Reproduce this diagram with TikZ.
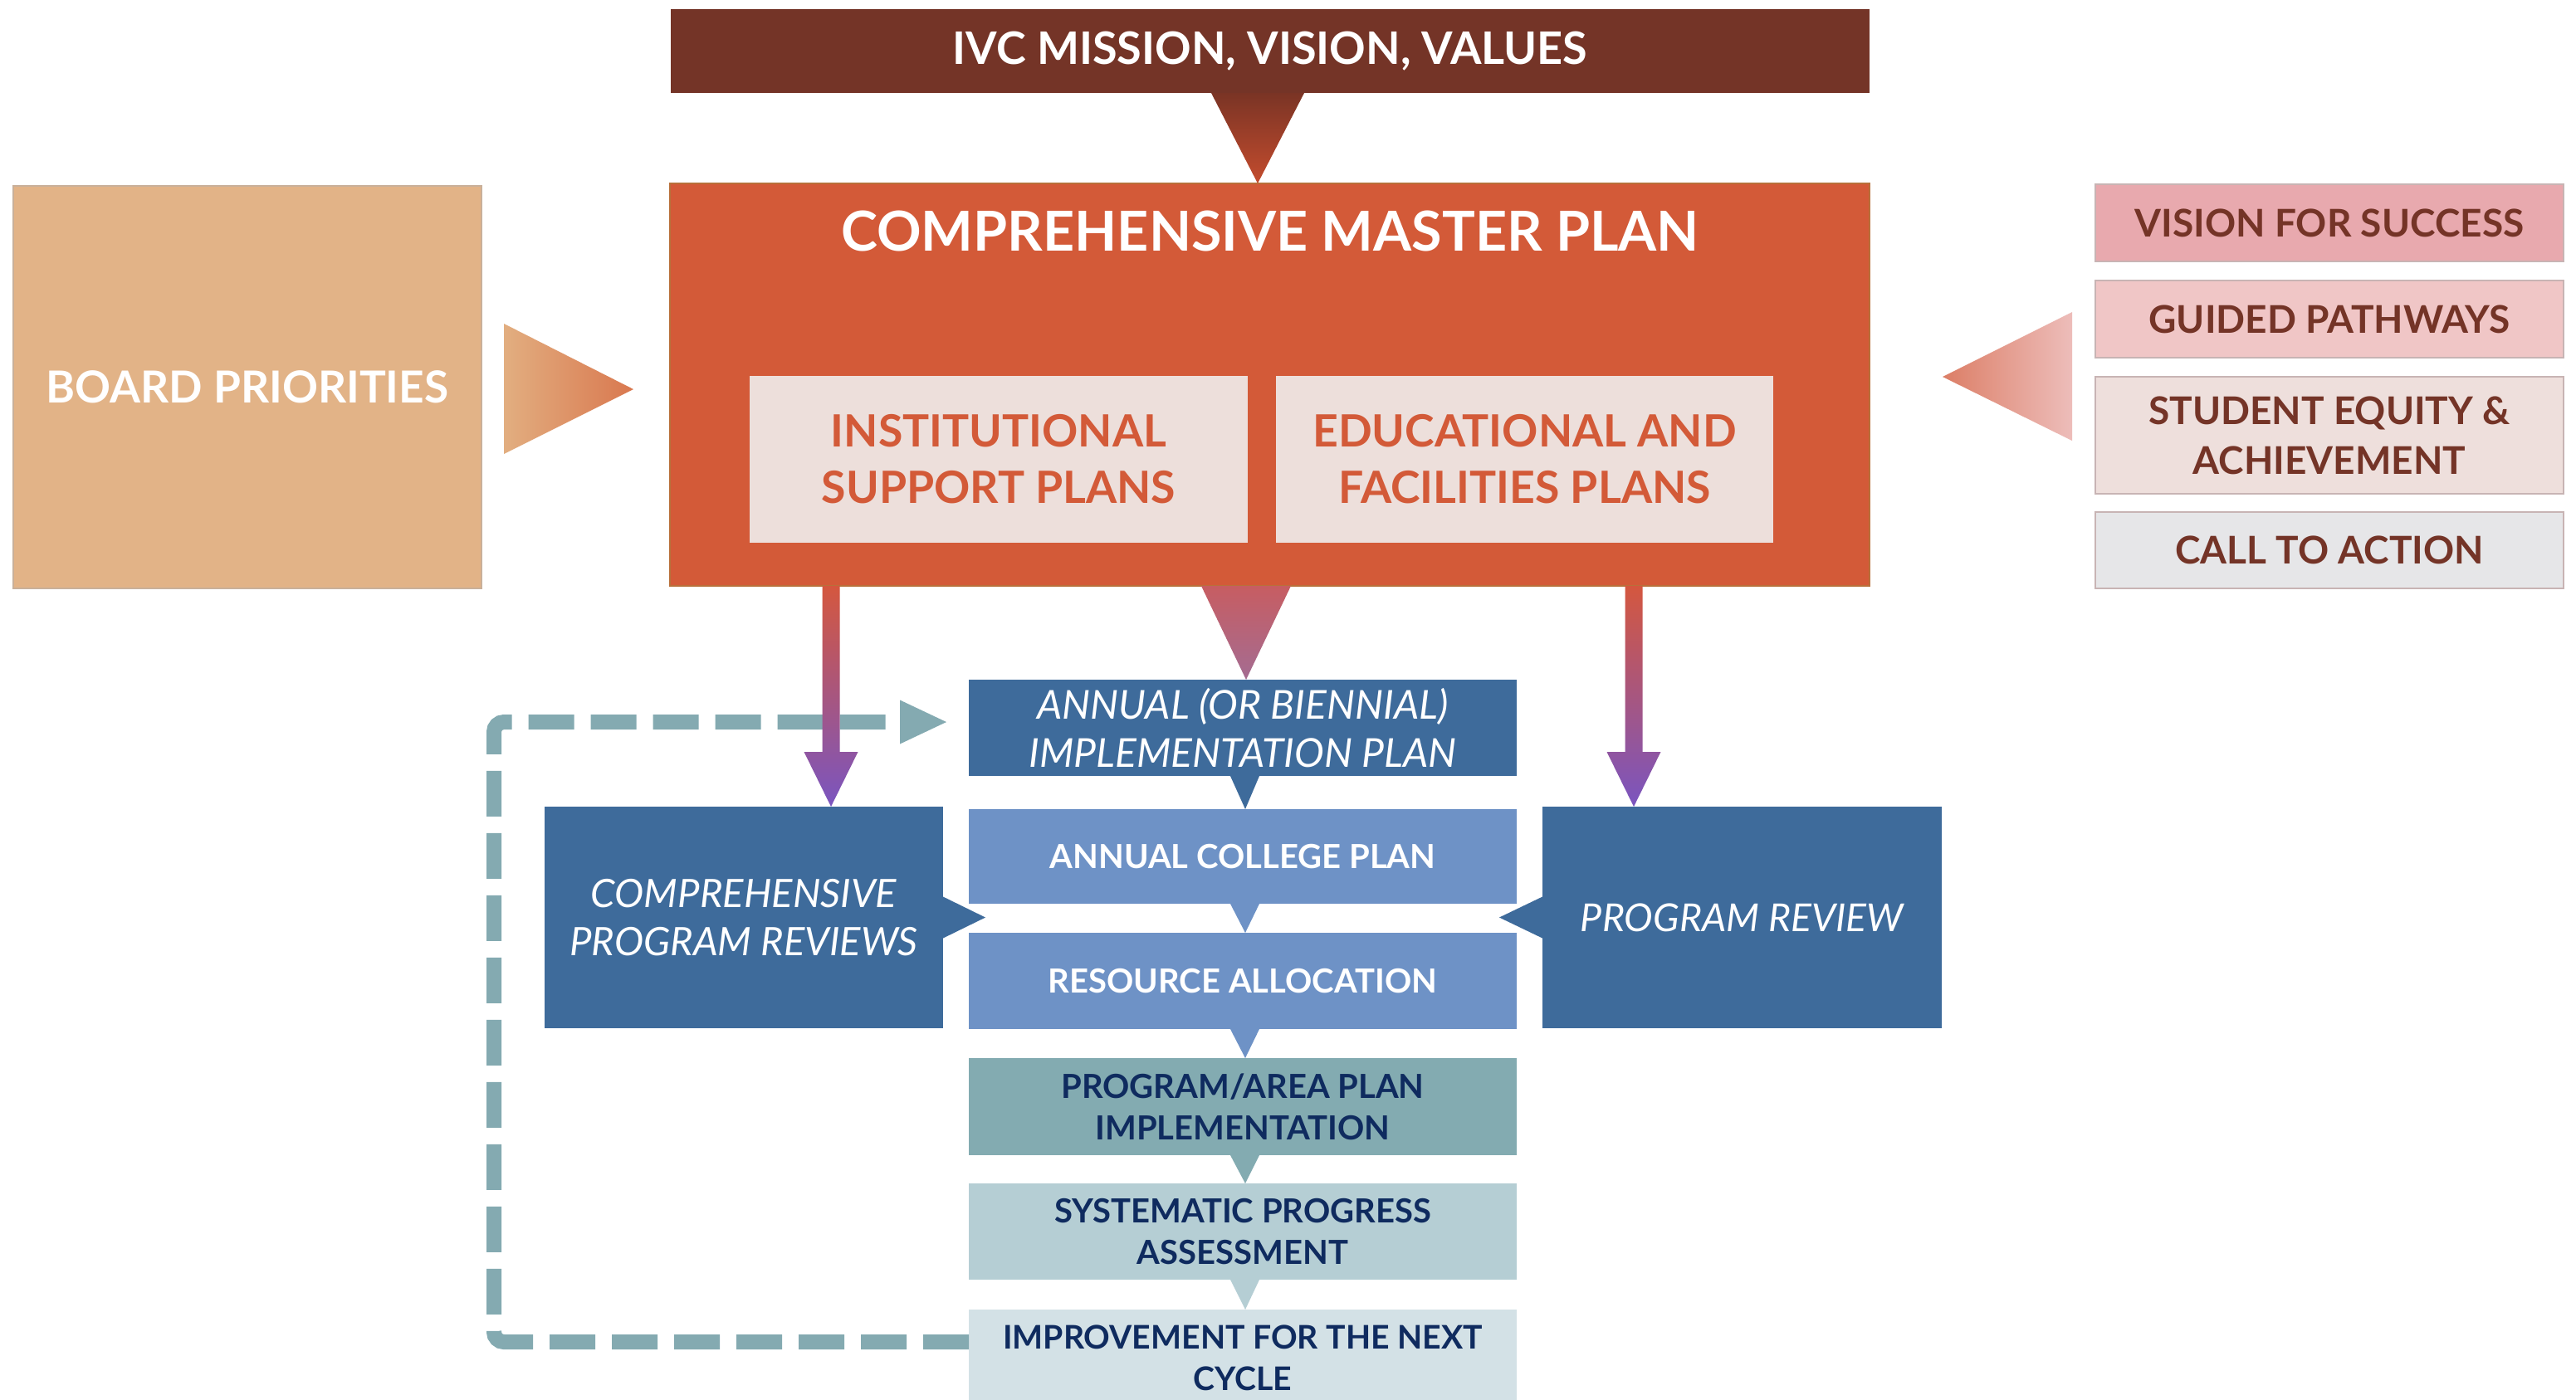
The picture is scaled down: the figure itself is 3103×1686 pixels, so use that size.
\documentclass[tikz,border=0pt]{standalone}
\usepackage{fontspec}
\setmainfont{Lato}
\usetikzlibrary{calc}
\definecolor{bannerc}{HTML}{743427}
\definecolor{masterc}{HTML}{D35A38}
\definecolor{masterb}{HTML}{B8703A}
\definecolor{innerc}{HTML}{EDDFDB}
\definecolor{boardc}{HTML}{E2B387}
\definecolor{boardb}{HTML}{C9B09A}
\definecolor{visc}{HTML}{E8A9AE}
\definecolor{guidc}{HTML}{F0C6C6}
\definecolor{equic}{HTML}{EEDFDC}
\definecolor{callc}{HTML}{E6E6E8}
\definecolor{rightb}{HTML}{C8B4B4}
\definecolor{browntext}{HTML}{743427}
\definecolor{dblue}{HTML}{3E6B9B}
\definecolor{lblue}{HTML}{6E92C6}
\definecolor{tealc}{HTML}{83ABB1}
\definecolor{lteal}{HTML}{B5CED4}
\definecolor{xteal}{HTML}{D3E1E6}
\definecolor{navy}{HTML}{0F2B5F}
\definecolor{dashc}{HTML}{84AAB1}
\definecolor{arrtop}{HTML}{D4573F}
\definecolor{arrbot}{HTML}{7A55C0}
\definecolor{btritop}{HTML}{7A3425}
\definecolor{btribot}{HTML}{C44C2E}
\definecolor{mtritop}{HTML}{C75D62}
\definecolor{mtribot}{HTML}{A46C92}
\definecolor{ltrileft}{HTML}{E2AE80}
\definecolor{ltriright}{HTML}{D9784F}
\definecolor{rtrileft}{HTML}{DC7E66}
\definecolor{rtriright}{HTML}{EDBDBA}
\tikzset{
  box/.style={rectangle, inner sep=0pt, outer sep=0pt, align=center},
  sz/.style 2 args={minimum width={#1*0.25pt}, minimum height={#2*0.25pt}},
  fbanner/.style={font=\bfseries\fontsize{13.5}{17}\selectfont},
  fbig/.style={font=\bfseries\fontsize{13.4}{17}\selectfont},
  fboard/.style={font=\bfseries\fontsize{13.3}{17}\selectfont},
  ftitle/.style={font=\bfseries\fontsize{16.6}{19}\selectfont},
  fright/.style={font=\bfseries\fontsize{11.5}{15}\selectfont},
  fital/.style={font=\itshape\fontsize{12}{14.5}\selectfont},
  fcpr/.style={font=\itshape\fontsize{11.8}{14.5}\selectfont},
  fpr/.style={font=\itshape\fontsize{11.6}{14.5}\selectfont},
  fsmall/.style={font=\bfseries\fontsize{10}{12.5}\selectfont},
  fimp/.style={font=\bfseries\fontsize{9.8}{12.5}\selectfont},
  feedback/.style={draw=dashc, line width=4.5pt, dash pattern=on 13.75pt off 5pt, rounded corners=3pt},
}
\begin{document}
\begin{tikzpicture}[x=0.25pt,y=-0.25pt]
\useasboundingbox (0,0) rectangle (3103,1686);
\fill[white] (0,0) rectangle (3103,1686);

% top banner and master plan
\node[box, sz={1444}{101}, fill=bannerc, text=white, fbanner] (banner) at (1530,61.5) {IVC MISSION, VISION, VALUES};
\node[box, sz={1445}{485}, fill=masterc, draw=masterb, line width=0.5pt] (master) at (1529.5,463.5) {};
\node[box, text=white, ftitle] (mtitle) at (1530,278) {COMPREHENSIVE MASTER PLAN};
\node[box, sz={600}{201}, fill=innerc, text=masterc, fbig] (inst) at (1203,553.5) {INSTITUTIONAL\\SUPPORT PLANS};
\node[box, sz={599}{201}, fill=innerc, text=masterc, fbig] (edu) at (1836.5,553.5) {EDUCATIONAL AND\\FACILITIES PLANS};

% board priorities
\node[box, sz={564}{485}, fill=boardc, draw=boardb, line width=0.4pt, text=white, fboard] (board) at (298,466.5) {BOARD PRIORITIES};

% right column
\node[box, sz={564}{93}, fill=visc, draw=rightb, line width=0.4pt, text=browntext, fright] (vis) at (2806,268.5) {VISION FOR SUCCESS};
\node[box, sz={564}{93}, fill=guidc, draw=rightb, line width=0.4pt, text=browntext, fright] (guid) at (2806,384.5) {GUIDED PATHWAYS};
\node[box, sz={564}{141}, fill=equic, draw=rightb, line width=0.4pt, text=browntext, fright] (equi) at (2806,524.5) {STUDENT EQUITY \&\\ACHIEVEMENT};
\node[box, sz={564}{92}, fill=callc, draw=rightb, line width=0.4pt, text=browntext, fright] (call) at (2806,663) {CALL TO ACTION};

% lower flow
\node[box, sz={660}{116}, fill=dblue, text=white, fital] (aip) at (1497,877) {ANNUAL (OR BIENNIAL)\\IMPLEMENTATION PLAN};
\node[box, sz={660}{114}, fill=lblue, text=white, fsmall] (acp) at (1497,1032) {ANNUAL COLLEGE PLAN};
\node[box, sz={660}{116}, fill=lblue, text=white, fsmall] (ra) at (1497,1182) {RESOURCE ALLOCATION};
\node[box, sz={660}{117}, fill=tealc, text=navy, fsmall] (pa) at (1497,1333.5) {PROGRAM/AREA PLAN\\IMPLEMENTATION};
\node[box, sz={660}{116}, fill=lteal, text=navy, fsmall] (spa) at (1497,1484) {SYSTEMATIC PROGRESS\\ASSESSMENT};
\node[box, sz={660}{116}, fill=xteal, text=navy, fimp] (imp) at (1497,1636) {IMPROVEMENT FOR THE NEXT\\CYCLE};

\node[box, sz={480}{267}, fill=dblue, text=white, fcpr] (cpr) at (896,1105.5) {COMPREHENSIVE\\PROGRAM REVIEWS};
\node[box, sz={481}{267}, fill=dblue, text=white, fpr] (pr) at (2098.5,1105.5) {PROGRAM REVIEW};

% feedback dashed loop
\coordinate (fbstart) at ($(imp.north west)+(0,39)$);
\coordinate (fbtip) at ($(aip.west)+(-27,-7)$);
\draw[feedback] (fbstart) -- (595,1617) -- (595,870) -- ($(fbtip)+(-56,0)$);
\fill[dashc] ($(fbtip)+(-56,-26.5)$) -- (fbtip) -- ($(fbtip)+(-56,26.5)$) -- cycle;

% triangle connectors
\shade[top color=btritop, bottom color=btribot] ($(banner.south)+(-71,0)$) -- ($(banner.south)+(41,0)$) -- ($(master.north)+(-14.5,0)$) -- cycle;
\shade[left color=ltrileft, right color=ltriright] ($(board.east)+(27,-76.5)$) -- ($(board.east)+(183,2.5)$) -- ($(board.east)+(27,80.5)$) -- cycle;
\shade[left color=rtrileft, right color=rtriright] ($(guid.south west)+(-28,-55)$) -- ($(equi.west)+(-184,-70.5)$) -- ($(guid.south west)+(-28,100)$) -- cycle;
\shade[top color=mtritop, bottom color=mtribot] ($(master.south)+(-82.5,0)$) -- ($(master.south)+(25.5,0)$) -- ($(aip.north)+(4,0)$) -- cycle;

% vertical arrows
\coordinate (la) at ($(cpr.north east)+(-135,0)$);
\coordinate (rar) at ($(pr.north west)+(110,0)$);
\foreach \p in {la,rar}{
  \shade[top color=arrtop, bottom color=arrbot]
    ($(\p|-master.south)+(-10.5,0)$) -- ($(\p|-master.south)+(10.5,0)$) --
    ($(\p)+(10.5,-66)$) -- ($(\p)+(32.5,-66)$) -- (\p) --
    ($(\p)+(-32.5,-66)$) -- ($(\p)+(-10.5,-66)$) -- cycle;
}

% small chevrons between flow boxes
\fill[dblue] ($(aip.south)+(-15,0)$) -- ($(aip.south)+(20,0)$) -- ($(acp.north)+(3,0)$) -- cycle;
\fill[lblue] ($(acp.south)+(-15,0)$) -- ($(acp.south)+(20,0)$) -- ($(ra.north)+(3,0)$) -- cycle;
\fill[lblue] ($(ra.south)+(-15,0)$) -- ($(ra.south)+(20,0)$) -- ($(pa.north)+(3,0)$) -- cycle;
\fill[tealc] ($(pa.south)+(-15,0)$) -- ($(pa.south)+(20,0)$) -- ($(spa.north)+(3,0)$) -- cycle;
\fill[lteal] ($(spa.south)+(-15,0)$) -- ($(spa.south)+(20,0)$) -- ($(imp.north)+(3,0)$) -- cycle;

% side pointers
\fill[dblue] ($(cpr.east)+(0,-25)$) -- ($(cpr.east)+(51,0)$) -- ($(cpr.east)+(0,25)$) -- cycle;
\fill[dblue] ($(pr.west)+(0,-25)$) -- ($(pr.west)+(-52,0)$) -- ($(pr.west)+(0,25)$) -- cycle;
\end{tikzpicture}
\end{document}
